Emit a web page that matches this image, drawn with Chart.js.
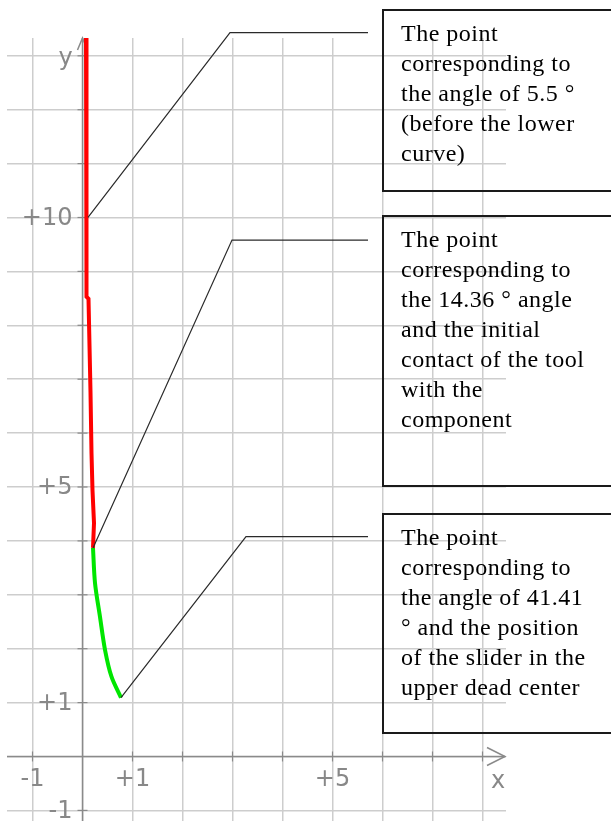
<!DOCTYPE html>
<html>
<head>
<meta charset="utf-8">
<script src="https://cdn.jsdelivr.net/npm/chart.js@4/dist/chart.umd.min.js"></script>
<style>
  html, body { margin: 0; padding: 0; background: #fff; overflow: hidden; }
  #wrap { position: relative; width: 611px; height: 821px; }
  #c { position: absolute; left: 0; top: 0; }
  .box {
    position: absolute; left: 382px; width: 260px; box-sizing: border-box;
    border: 2px solid #1a1a1a; border-right: none;
    padding: 7px 0 0 17px;
    font: 24px/30px "Liberation Serif", "Times New Roman", serif;
    letter-spacing: 0.5px; color: #000; white-space: nowrap;
  }
</style>
</head>
<body>
<div id="wrap">
  <canvas id="c" width="611" height="821"></canvas>
  <div class="box" style="top:9px;height:183px">The point<br>corresponding to<br>the angle of 5.5 °<br>(before the lower<br>curve)</div>
  <div class="box" style="top:215px;height:272px">The point<br>corresponding to<br>the 14.36 ° angle<br>and the initial<br>contact of the tool<br>with the<br>component</div>
  <div class="box" style="top:513px;height:221px">The point<br>corresponding to<br>the angle of 41.41<br>° and the position<br>of the slider in the<br>upper dead center</div>
</div>
<script>
// ---- data ----
const redX   = [0.07, 0.08, 0.08, 0.12, 0.16, 0.18, 0.20, 0.23, 0.21];
const redY   = [13.33, 11.2, 8.53, 8.49, 6.76, 5.63, 4.94, 4.33, 3.87];
const greenX = [0.21, 0.25, 0.35, 0.45, 0.58, 0.77];
const greenY = [3.87, 3.22, 2.59, 1.98, 1.48, 1.09];

const leader1X = [0.11, 2.95, 5.71];
const leader1Y = [10.0, 13.43, 13.43];
const leader2X = [0.21, 2.99, 5.71];
const leader2Y = [3.87, 9.58, 9.58];
const leader3X = [0.77, 3.27, 5.71];
const leader3Y = [1.09, 4.08, 4.08];

const xGrid = [-1, 0, 1, 2, 3, 4, 5, 6, 7, 8];
const yGrid = [-1, 0, 1, 2, 3, 4, 5, 6, 7, 8, 9, 10, 11, 12, 13];
const xTickValues = [-1, 1, 5];
const xTickLabels = ['-1', '+1', '+5'];
const yTickValues = [10, 5, 1, -1];
const yTickLabels = ['+10', '+5', '+1', '-1'];

const pts = (xs, ys) => xs.map((x, i) => ({ x: x, y: ys[i] }));

const axesPlugin = {
  id: 'axesPlugin',
  beforeDatasetsDraw(chart) {
    const ctx = chart.ctx, xs = chart.scales.x, ys = chart.scales.y, ca = chart.chartArea;
    const x0 = xs.getPixelForValue(0), y0 = ys.getPixelForValue(0);
    ctx.save();
    ctx.strokeStyle = '#8a8a8a';
    ctx.lineWidth = 1.5;
    // x axis
    ctx.beginPath();
    ctx.moveTo(ca.left, y0); ctx.lineTo(ca.right - 1, y0);
    ctx.stroke();
    // x arrow
    ctx.beginPath();
    ctx.moveTo(ca.right - 19, y0 - 9); ctx.lineTo(ca.right - 1, y0); ctx.lineTo(ca.right - 19, y0 + 9);
    ctx.stroke();
    // y axis
    ctx.beginPath();
    ctx.moveTo(x0, ca.bottom); ctx.lineTo(x0, ca.top);
    ctx.stroke();
    // y arrow
    ctx.beginPath();
    ctx.moveTo(x0 - 5, ca.top + 12); ctx.lineTo(x0, ca.top); ctx.lineTo(x0 + 5, ca.top + 12);
    ctx.stroke();
    // tick marks
    ctx.lineWidth = 1.2;
    xGrid.forEach(v => {
      if (v === 0) return;
      const px = xs.getPixelForValue(v);
      ctx.beginPath(); ctx.moveTo(px, y0 - 5); ctx.lineTo(px, y0 + 5); ctx.stroke();
    });
    yGrid.forEach(v => {
      if (v === 0) return;
      const py = ys.getPixelForValue(v);
      ctx.beginPath(); ctx.moveTo(x0 - 5, py); ctx.lineTo(x0 + 5, py); ctx.stroke();
    });
    // labels
    ctx.fillStyle = '#888888';
    ctx.font = '24px "DejaVu Sans", sans-serif';
    ctx.textBaseline = 'middle';
    ctx.textAlign = 'right';
    yTickValues.forEach((v, i) => {
      ctx.fillText(yTickLabels[i], x0 - 10, ys.getPixelForValue(v) + 1);
    });
    ctx.textAlign = 'center';
    xTickValues.forEach((v, i) => {
      ctx.fillText(xTickLabels[i], xs.getPixelForValue(v), y0 + 23);
    });
    ctx.fillText('x', ca.right - 8, y0 + 25);
    ctx.fillText('y', x0 - 17, ca.top + 21);
    ctx.restore();
  }
};

const leaderStyle = { borderColor: '#2a2a2a', borderWidth: 1.2, showLine: true, pointRadius: 0, clip: false, order: 1 };

new Chart(document.getElementById('c'), {
  type: 'scatter',
  data: {
    datasets: [
      Object.assign({ data: pts(leader1X, leader1Y) }, leaderStyle),
      Object.assign({ data: pts(leader2X, leader2Y) }, leaderStyle),
      Object.assign({ data: pts(leader3X, leader3Y) }, leaderStyle),
      { data: pts(greenX, greenY), borderColor: '#00e600', borderWidth: 4, showLine: true, pointRadius: 0, tension: 0.3, clip: false, order: 3 },
      { data: pts(redX, redY), borderColor: '#ff0000', borderWidth: 4, showLine: true, pointRadius: 0, clip: false, order: 2 }
    ]
  },
  options: {
    responsive: false,
    animation: false,
    devicePixelRatio: 1,
    layout: { padding: { left: 7, right: 105, top: 38, bottom: 0 } },
    plugins: { legend: { display: false }, tooltip: { enabled: false } },
    scales: {
      x: {
        type: 'linear', min: -1.51, max: 8.47,
        ticks: { display: false },
        border: { display: false },
        grid: { color: '#cdcdcd', lineWidth: 1.5, drawTicks: false },
        afterBuildTicks: a => { a.ticks = xGrid.map(v => ({ value: v })); }
      },
      y: {
        type: 'linear', min: -1.197, max: 13.33,
        ticks: { display: false },
        border: { display: false },
        grid: { color: '#cdcdcd', lineWidth: 1.5, drawTicks: false },
        afterBuildTicks: a => { a.ticks = yGrid.map(v => ({ value: v })); }
      }
    }
  },
  plugins: [axesPlugin]
});
</script>
</body>
</html>
